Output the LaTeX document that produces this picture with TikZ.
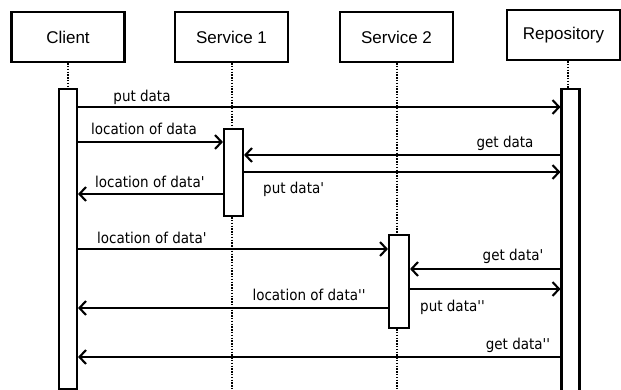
\documentclass[tikz,border=0pt]{standalone}
\usepackage{fontspec}
\setmainfont{Liberation Sans}
\newfontfamily\msgfont{DejaVu Sans}[FakeStretch=0.9]
\usetikzlibrary{arrows.meta}
\begin{document}
\begin{tikzpicture}[x=1pt,y=-1pt,
  actor/.style={draw, line width=2.3pt, minimum width=113pt, minimum height=50pt, inner sep=0pt, font=\fontsize{17}{20}\selectfont},
  actbar/.style={draw, line width=2.1pt, fill=white, minimum width=18pt, inner sep=0pt},
  life/.style={line width=1.8pt, dash pattern=on 1.4pt off 1.4pt},
  msg/.style={line width=2.1pt, -{Straight Barb[length=6.5pt,width=14pt,line width=2.1pt]}},
  lbl/.style={font=\msgfont\fontsize{15}{17}\selectfont, inner sep=0pt}
]
\useasboundingbox (0,0) rectangle (621,390);
% actors
\node[actor] (client) at (68,37) {Client};
\node[actor] (s1) at (231.5,37) {Service 1};
\node[actor] (s2) at (396.5,37) {Service 2};
\node[actor] (repo) at (563.5,35) {Repository};
% lifeline ends
\coordinate (s1end) at (232,392);
\coordinate (s2end) at (397,392);
% lifelines
\draw[life] (client.south) -- (68,89);
\draw[life] (repo.south -| 568,0) -- (568,89);
\draw[life] (s1.south -| 232,0) -- (s1end);
\draw[life] (s2.south -| 397,0) -- (s2end);
% activation bars
\node[actbar, minimum height=300pt] (cb) at (68,239) {};
\node[actbar, minimum height=306pt] (rb) at (570.5,242) {};
\node[actbar, minimum height=87pt, minimum width=19pt] (b1) at (233.5,172.5) {};
\node[actbar, minimum height=93pt, minimum width=20pt] (b2) at (399,281.5) {};
% messages
\draw[msg] (cb.east |- 0,107) -- (rb.west |- 0,107);
\node[lbl] (l1) at (142,97) {put data};
\draw[msg] (cb.east |- 0,142) -- (b1.west |- 0,142);
\node[lbl, anchor=west] (l2) at (91,129) {location of data};
\draw[msg] (rb.west |- 0,155) -- (b1.east |- 0,155);
\node[lbl] (l3) at (505,143) {get data};
\draw[msg] (b1.east |- 0,172) -- (rb.west |- 0,172);
\node[lbl, anchor=west] (l4) at (263,189) {put data'};
\draw[msg] (b1.west |- 0,194) -- (cb.east |- 0,194);
\node[lbl, anchor=west] (l5) at (95,182) {location of data'};
\draw[msg] (cb.east |- 0,249) -- (b2.west |- 0,249);
\node[lbl, anchor=west] (l6) at (97,238) {location of data'};
\draw[msg] (rb.west |- 0,269) -- (b2.east |- 0,269);
\node[lbl] (l7) at (513,256) {get data'};
\draw[msg] (b2.east |- 0,289) -- (rb.west |- 0,289);
\node[lbl, anchor=west] (l8) at (420,307) {put data''};
\draw[msg] (b2.west |- 0,308) -- (cb.east |- 0,308);
\node[lbl] (l9) at (309,295) {location of data''};
\draw[msg] (rb.west |- 0,357) -- (cb.east |- 0,357);
\node[lbl] (l10) at (518,345) {get data''};
\end{tikzpicture}
\end{document}
